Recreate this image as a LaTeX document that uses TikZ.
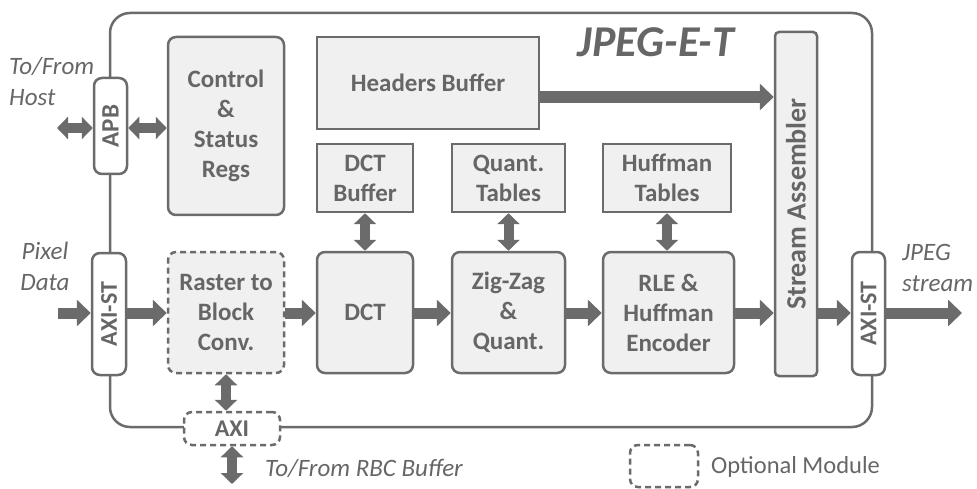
\documentclass[tikz,border=0pt]{standalone}
\usepackage{fontspec}
\setmainfont{Carlito}
\usetikzlibrary{arrows.meta}
\definecolor{gr}{HTML}{6B6B6B}
\definecolor{tx}{HTML}{666666}
\definecolor{fl}{HTML}{F0F0F0}
\begin{document}
\begin{tikzpicture}[x=1pt,y=-1pt,
  blk/.style={draw=gr, line width=2.5pt, fill=fl, rounded corners=8pt, text=tx,
    font=\bfseries\fontsize{25}{30}\selectfont, align=center, inner sep=0pt},
  sq/.style={blk, rounded corners=0pt},
  port/.style={blk, fill=white},
  rot/.style={text=tx, font=\bfseries\fontsize{25}{28}\selectfont, rotate=90, inner sep=0pt},
  opt/.style={dash pattern=on 6pt off 4pt},
  lbl/.style={text=tx, font=\itshape\fontsize{25}{31}\selectfont, inner sep=0pt},
  fat/.style={draw=gr, line width=11pt, -{Triangle[width=26pt,length=14pt]}},
  dbl/.style={draw=gr, line width=10pt, {Triangle[width=22pt,length=11pt]}-{Triangle[width=22pt,length=11pt]}}
]
\useasboundingbox (0,0) rectangle (977,489);
% outer
\draw[draw=gr, line width=2.5pt, rounded corners=20pt] (110,13) rectangle (872,427);
\node[text=tx, font=\bfseries\itshape\fontsize{44}{44}\selectfont, anchor=base, inner sep=0pt] (title) at (656,57) {JPEG-E-T};
% blocks
\node[blk, minimum width=116pt, minimum height=178pt] (ctrl) at (226,126) {Control\\\&\\Status\\Regs};
\node[sq, minimum width=222pt, minimum height=92pt] (hdr) at (428,83) {Headers Buffer};
\node[sq, minimum width=96pt, minimum height=68pt] (dctb) at (365,178) {DCT\\Buffer};
\node[sq, minimum width=113pt, minimum height=68pt] (qt) at (508.5,178) {Quant.\\Tables};
\node[sq, minimum width=128pt, minimum height=68pt] (ht) at (667,178) {Huffman\\Tables};
\node[blk, rounded corners=4pt, minimum width=42pt, minimum height=344pt] (sa) at (796,204) {};
\node[rot, font=\bfseries\fontsize{28}{30}\selectfont] (satext) at (sa.center) {Stream Assembler};
\node[blk, opt, minimum width=116pt, minimum height=121pt] (rbc) at (226,312.5) {Raster to\\Block\\Conv.};
\node[blk, minimum width=96pt, minimum height=121pt] (dct) at (365,312.5) {DCT};
\node[blk, minimum width=113pt, minimum height=121pt] (zz) at (508.5,312.5) {Zig-Zag\\\&\\Quant.};
\node[blk, minimum width=131pt, minimum height=121pt] (rle) at (668.5,312.5) {RLE \&\\Huffman\\Encoder};
% ports
\node[port, minimum width=33pt, minimum height=96pt] (apb) at (110.5,126) {};
\node[rot] (apbt) at (apb.center) {APB};
\node[port, minimum width=34pt, minimum height=122pt] (axil) at (109,314) {};
\node[rot, font=\bfseries\fontsize{24}{28}\selectfont] (axilt) at (axil.center) {AXI-ST};
\node[port, minimum width=33pt, minimum height=123pt] (axir) at (868.5,313.5) {};
\node[rot, font=\bfseries\fontsize{24}{28}\selectfont] (axirt) at (axir.center) {AXI-ST};
\node[port, opt, minimum width=96pt, minimum height=33pt, font=\bfseries\fontsize{24}{26}\selectfont] (axi) at (232,428.5) {AXI};
% legend
\node[port, opt, minimum width=68pt, minimum height=42pt] (leg) at (664,466) {};
\node[text=tx, font=\fontsize{24.5}{28}\selectfont, anchor=west, inner sep=0pt] (legt) at (711,467) {Optional Module};
% labels
\node[lbl, anchor=west, align=left] (host) at (9,82) {To/From\\Host};
\node[lbl, align=center] (pix) at (45,266) {Pixel\\Data};
\node[lbl, anchor=west, align=left] (jout) at (902,268) {JPEG\\stream};
\node[lbl, anchor=west] (rbcl) at (265,468) {To/From RBC Buffer};
% coordinates
\coordinate (hostend) at (57,128);
\coordinate (pixin) at (58,313);
\coordinate (jpegout) at (962,313);
\coordinate (rbcend) at (232,484);
% arrows
\draw[dbl] (hostend) -- (apb.west |- hostend);
\draw[dbl] (apb.east |- hostend) -- (ctrl.west |- hostend);
\draw[fat, line width=12pt] (hdr.east |- 0,97) -- (sa.west |- 0,97);
\draw[dbl] (dctb.south) -- (dct.north);
\draw[dbl] (qt.south) -- (zz.north);
\draw[dbl] (ht.south) -- (ht.south |- rle.north);
\draw[fat] (pixin) -- (axil.west |- pixin);
\draw[fat] (axil.east |- pixin) -- (rbc.west |- pixin);
\draw[fat] (rbc.east |- pixin) -- (dct.west |- pixin);
\draw[fat] (dct.east |- pixin) -- (zz.west |- pixin);
\draw[fat] (zz.east |- pixin) -- (rle.west |- pixin);
\draw[fat] (rle.east |- pixin) -- (sa.west |- pixin);
\draw[fat] (sa.east |- pixin) -- (axir.west |- pixin);
\draw[fat] (axir.east |- pixin) -- (jpegout);
\draw[dbl] (rbc.south) -- (rbc.south |- axi.north);
\draw[dbl] (axi.south) -- (rbcend);
\end{tikzpicture}
\end{document}
